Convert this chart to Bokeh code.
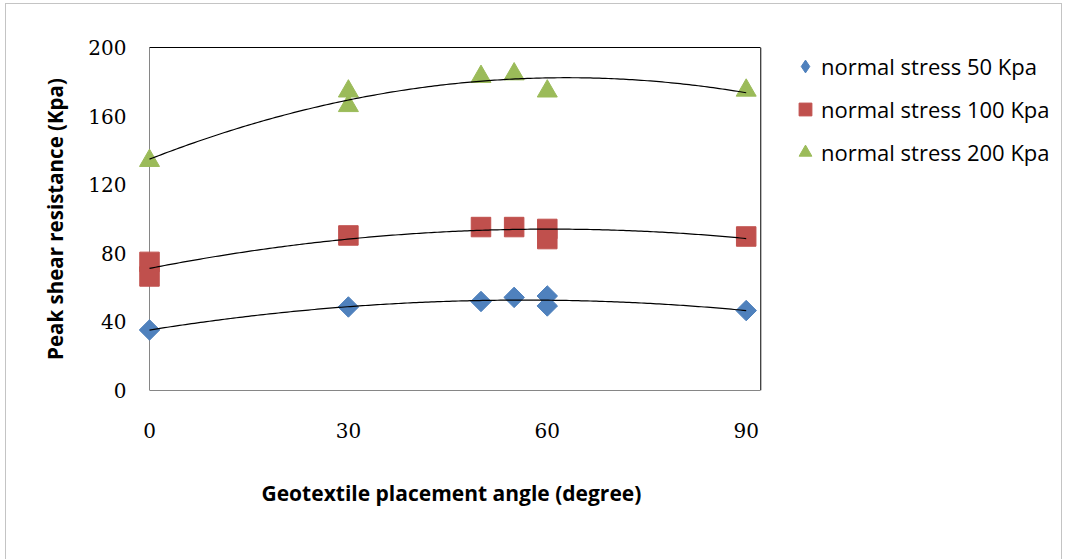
import numpy as np
from bokeh.plotting import figure
from bokeh.models import FixedTicker, Legend, LegendItem, LinearAxis, Span, Title
from bokeh.embed import file_html
from bokeh.resources import INLINE

# ---- data ----
angle_50 = [0, 30, 50, 55, 60, 60, 90]
stress_50 = [35.3, 48.7, 51.9, 54.3, 55.1, 49.3, 46.6]
angle_100 = [0, 0, 30, 50, 55, 60, 60, 90]
stress_100 = [75.0, 66.5, 90.4, 95.3, 95.3, 94.2, 88.3, 89.8]
angle_200 = [0, 30, 30, 50, 55, 60, 90]
stress_200 = [134.0, 174.5, 166.0, 183.0, 184.5, 174.5, 175.0]

labels = ["normal stress 50 Kpa", "normal stress 100 Kpa", "normal stress 200 Kpa"]
x_ticks = [0, 30, 60, 90]
y_ticks = [0, 40, 80, 120, 160, 200]
x_title = "Geotextile placement angle (degree)"
y_title = "Peak shear resistance (Kpa)"

# axis extent of the plot area (x axis ends slightly past 90)
X_MIN, X_MAX = 0, 92.2
Y_MIN, Y_MAX = 0, 200

BLUE = "#4F81BD"
RED = "#C0504D"
GREEN = "#9BBB59"
AXIS_GREY = "#868686"

# frame extends a bit left of x=0 (so markers at 0 are not clipped) and to the right
# edge of the chart (so the legend lives inside the frame)
p = figure(width=1057, height=556, x_range=(-1.81, 137.86), y_range=(Y_MIN, Y_MAX),
           output_backend="svg", toolbar_location=None,
           min_border_left=131, min_border_right=0, min_border_top=43, min_border_bottom=170)
p.margin = (3, 0, 0, 5)
p.styles = {"border-left": "1px solid #c4c4c4", "border-top": "1px solid #c4c4c4",
            "border-right": "1px solid #c4c4c4"}

p.grid.visible = False
p.outline_line_color = None

TICK_FONT = "DejaVu Serif"
TITLE_FONT = "Open Sans"

for ax in (p.xaxis[0], p.yaxis[0]):
    ax.major_tick_line_color = None
    ax.minor_tick_line_color = None
    ax.major_label_text_font = TICK_FONT
    ax.major_label_text_font_size = "20px"
    ax.major_label_text_color = "#000000"
    ax.axis_label_text_font = TITLE_FONT
    ax.axis_label_text_font_style = "bold"
    ax.axis_label_text_color = "#000000"

xa = p.xaxis[0]
ya = p.yaxis[0]
xa.ticker = FixedTicker(ticks=x_ticks)
ya.ticker = FixedTicker(ticks=y_ticks)
xa.bounds = (X_MIN, X_MAX)
xa.axis_line_color = AXIS_GREY
ya.axis_line_color = None
xa.major_label_standoff = 26
ya.major_label_standoff = 5
ya.axis_label = y_title
ya.axis_label_text_font_size = "20.5px"
ya.axis_label_standoff = 16

# x-axis title, placed under the plot area (not under the whole frame)
p.add_layout(Title(text=x_title, align="left", offset=124, standoff=73,
                   text_font=TITLE_FONT, text_font_style="bold",
                   text_font_size="21px", text_color="#000000"), "below")

# top border of the plot area
top = LinearAxis(ticker=FixedTicker(ticks=[]), bounds=(X_MIN, X_MAX),
                 axis_line_color="#000000", major_tick_line_color=None,
                 minor_tick_line_color=None)
p.add_layout(top, "above")

# value-axis line at x = 0 and right border of the plot area
p.add_layout(Span(location=X_MIN, dimension="height", line_color=AXIS_GREY,
                  line_width=1, level="underlay"))
p.add_layout(Span(location=X_MAX, dimension="height", line_color="#000000",
                  line_width=1, level="underlay"))

# markers
r50 = p.scatter(angle_50, stress_50, marker="square", angle=np.pi / 4, size=14.5,
                fill_color=BLUE, line_color=BLUE)
r100 = p.scatter(angle_100, stress_100, marker="square", size=19.5,
                 fill_color=RED, line_color=RED)
r200 = p.scatter(angle_200, stress_200, marker="triangle", size=20,
                 fill_color=GREEN, line_color=GREEN)

# polynomial (order 2) trend lines
for xs, ys in ((angle_50, stress_50), (angle_100, stress_100), (angle_200, stress_200)):
    coef = np.polyfit(xs, ys, 2)
    xx = np.linspace(min(xs), max(xs), 200)
    p.line(xx, np.polyval(coef, xx), line_color="#000000", line_width=1.2)

# legend proxy (diamond symbol for the first series)
leg50 = p.scatter(angle_50[:1], stress_50[:1], marker="diamond",
                  fill_color=BLUE, line_color=BLUE)
leg50.visible = False

legend = Legend(items=[LegendItem(label=labels[0], renderers=[leg50]),
                       LegendItem(label=labels[1], renderers=[r100]),
                       LegendItem(label=labels[2], renderers=[r200])],
                location=(652, 219), orientation="vertical",
                glyph_width=32, glyph_height=38, label_height=38, spacing=5,
                label_standoff=0, padding=0, margin=0,
                border_line_alpha=0, background_fill_alpha=0,
                inactive_fill_alpha=0,
                label_text_font=TITLE_FONT, label_text_font_size="22px",
                label_text_color="#000000")
p.add_layout(legend, "center")

open("out.html", "w").write(file_html(p, INLINE))
